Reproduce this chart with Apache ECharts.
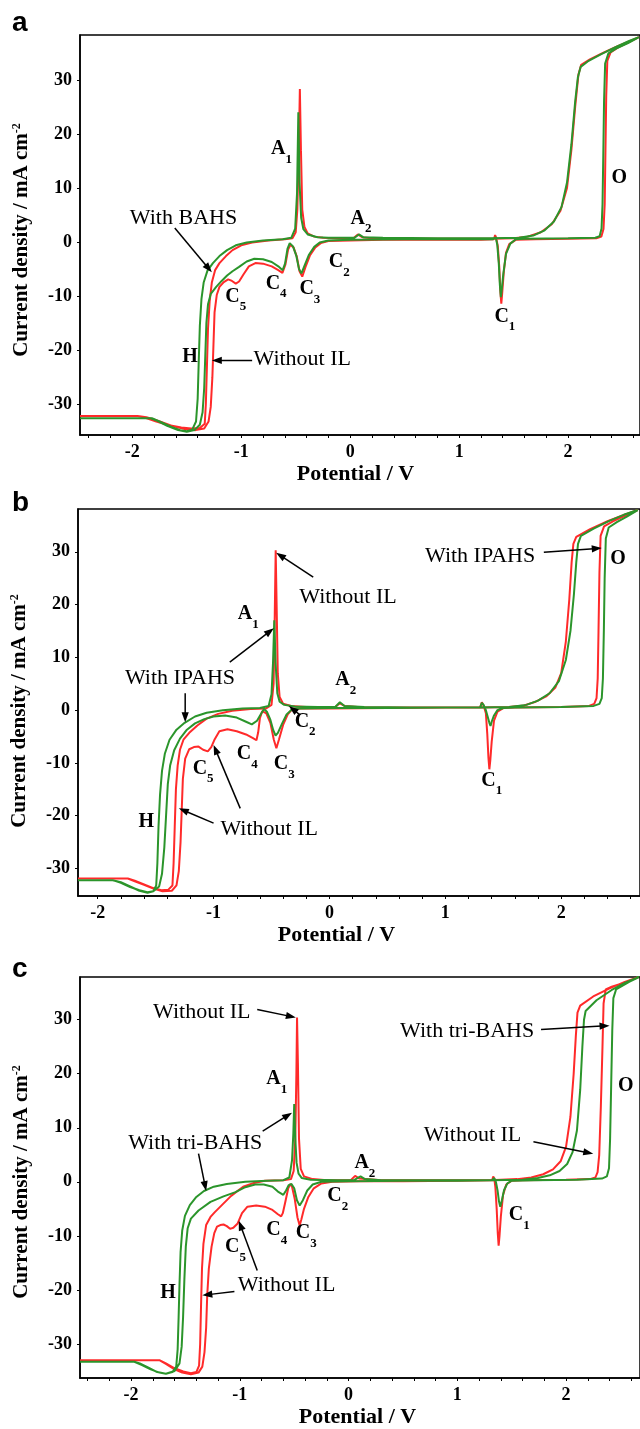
<!DOCTYPE html>
<html><head><meta charset="utf-8">
<script src="https://cdn.jsdelivr.net/npm/echarts@6/dist/echarts.min.js"></script>
<style>html,body{margin:0;padding:0;background:#fff}#c{width:640px;height:1429px}</style>
</head><body><div id="c"></div>
<script>
// ---------- tick labels ----------
const xLabelValues = [-2, -1, 0, 1, 2];
const xMinorValues = [-2.4,-2.2,-2.0,-1.8,-1.6,-1.4,-1.2,-1.0,-0.8,-0.6,-0.4,-0.2,0,0.2,0.4,0.6,0.8,1.0,1.2,1.4,1.6,1.8,2.0,2.2,2.4,2.6];
const yLabelValues = [-30, -20, -10, 0, 10, 20, 30];
const panelLetters = ['a', 'b', 'c'];
const xTitle = 'Potential / V';
const redName = 'Without IL';
const greenNames = ['With BAHS', 'With IPAHS', 'With tri-BAHS'];

// ---------- panel a : [potential V, current density mA cm-2] ----------
const aRed = [[-2.48,-32.2],[-1.95,-32.2],[-1.88,-32.5],[-1.78,-33.2],[-1.66,-33.9],[-1.55,-34.3],[-1.46,-34.5],[-1.38,-34.4],[-1.335,-33.6],
[-1.325,-30],[-1.315,-23],[-1.305,-16],[-1.29,-11],[-1.27,-7.5],[-1.24,-5.2],[-1.2,-3.9],[-1.14,-2.6],[-1.08,-1.5],[-1.0,-0.6],[-0.9,-0.1],[-0.75,0.3],[-0.6,0.5],[-0.53,0.7],[-0.5,1.8],[-0.485,6],[-0.472,17],[-0.462,28.3],[-0.452,17],[-0.44,6],[-0.42,2.8],[-0.39,1.6],[-0.33,1.0],[-0.25,0.8],[-0.1,0.7],[0.03,0.7],[0.07,1.4],[0.11,0.9],[0.2,0.7],[0.6,0.6],[1.0,0.6],[1.3,0.6],[1.5,0.7],[1.63,1.0],[1.75,1.8],[1.85,3.3],[1.93,5.8],[1.99,10],[2.03,17],[2.065,25],[2.095,31],[2.12,32.8],[2.2,33.8],[2.32,35.0],[2.45,36.2],[2.56,37.1],[2.65,37.9],
[2.55,36.9],[2.46,36.0],[2.39,35.1],[2.36,33.5],[2.35,27],[2.343,17],[2.336,7],[2.325,2.4],[2.305,1.0],[2.26,0.7],[2.0,0.6],[1.7,0.5],[1.52,0.4],[1.46,-0.4],[1.43,-2],[1.41,-5.5],[1.395,-9.5],[1.387,-11.4],[1.378,-9],[1.368,-4.5],[1.355,-0.8],[1.34,0.8],[1.33,1.3],[1.32,0.5],[1.2,0.4],[0.8,0.4],[0.3,0.4],[0.0,0.3],[-0.2,0.2],[-0.27,-0.2],[-0.32,-1.0],[-0.37,-2.5],[-0.41,-4.6],[-0.44,-6.4],[-0.465,-5.4],[-0.49,-2.7],[-0.52,-1.0],[-0.548,-0.5],[-0.57,-1.4],[-0.595,-4.2],[-0.622,-5.7],[-0.66,-5.2],[-0.72,-4.5],[-0.8,-4.0],[-0.87,-3.9],[-0.93,-4.5],[-0.98,-6.0],[-1.02,-7.3],[-1.05,-7.7],[-1.085,-7.2],[-1.12,-6.9],[-1.16,-7.4],[-1.2,-8.3],[-1.225,-9.8],[-1.245,-13],[-1.255,-19],[-1.265,-25],[-1.28,-30.5],[-1.3,-33.2],[-1.34,-34.5],[-1.42,-34.8],[-1.52,-34.6],[-1.64,-34.0],[-1.76,-33.1],[-1.87,-32.4],[-1.95,-32.2],[-2.48,-32.2]];
const aGreen = [[-2.48,-32.6],[-1.82,-32.6],[-1.74,-33.3],[-1.64,-34.2],[-1.56,-34.8],[-1.5,-35.0],[-1.45,-34.7],[-1.415,-33.2],
[-1.4,-29],[-1.39,-22],[-1.38,-15.5],[-1.365,-10.5],[-1.345,-7.5],[-1.31,-5.3],[-1.26,-3.9],[-1.2,-2.6],[-1.13,-1.5],[-1.05,-0.6],[-0.95,-0.1],[-0.8,0.3],[-0.62,0.5],[-0.54,0.8],[-0.505,2.5],[-0.488,9],[-0.476,24],[-0.465,11],[-0.45,4.5],[-0.43,2.4],[-0.39,1.4],[-0.3,0.9],[-0.2,0.8],[0.04,0.8],[0.08,1.4],[0.12,0.9],[0.3,0.8],[0.8,0.7],[1.3,0.7],[1.55,0.8],[1.68,1.2],[1.78,2.1],[1.87,3.8],[1.94,6.5],[1.99,11],[2.03,18],[2.065,26],[2.09,30.5],[2.115,32.4],[2.18,33.4],[2.3,34.7],[2.44,36.1],[2.56,37.2],[2.65,37.9],
[2.55,36.8],[2.45,35.9],[2.37,34.9],[2.34,33],[2.33,26],[2.323,16],[2.316,7],[2.307,2.5],[2.29,1.1],[2.25,0.8],[2.0,0.7],[1.6,0.6],[1.52,0.5],[1.47,-0.3],[1.43,-2.2],[1.405,-6],[1.39,-9],[1.383,-10.2],[1.374,-8],[1.364,-4],[1.35,-0.5],[1.335,0.9],[1.325,1.2],[1.31,0.5],[1.0,0.5],[0.5,0.5],[0.0,0.4],[-0.2,0.3],[-0.28,-0.1],[-0.33,-0.9],[-0.38,-2.4],[-0.42,-4.4],[-0.447,-5.8],[-0.47,-5.0],[-0.495,-2.5],[-0.525,-0.8],[-0.555,-0.2],[-0.575,-1.2],[-0.598,-4.0],[-0.62,-5.2],[-0.66,-4.5],[-0.72,-3.7],[-0.8,-3.2],[-0.88,-3.1],[-0.95,-3.6],[-1.02,-4.6],[-1.08,-5.4],[-1.13,-6.2],[-1.18,-7.2],[-1.23,-8.3],[-1.28,-9.6],[-1.305,-11.5],[-1.32,-15],[-1.33,-21],[-1.34,-27],[-1.355,-31.5],[-1.38,-33.8],[-1.43,-34.8],[-1.5,-35.1],[-1.58,-34.8],[-1.68,-34.0],[-1.77,-33.1],[-1.83,-32.6],[-2.48,-32.6]];

// ---------- panel b ----------
const bRed = [[-2.17,-31.9],[-1.74,-31.9],[-1.68,-32.3],[-1.6,-33.0],[-1.52,-33.7],[-1.45,-34.1],[-1.39,-34.0],[-1.355,-33.2],
[-1.345,-29],[-1.335,-22],[-1.325,-15],[-1.31,-10.5],[-1.29,-7.5],[-1.26,-5.6],[-1.21,-4.3],[-1.14,-2.9],[-1.06,-1.6],[-0.96,-0.7],[-0.84,-0.1],[-0.68,0.2],[-0.55,0.3],[-0.5,1.0],[-0.482,5],[-0.472,18],[-0.464,30.3],[-0.456,20],[-0.446,7],[-0.43,2.5],[-0.4,1.2],[-0.33,0.8],[-0.2,0.6],[0.05,0.6],[0.09,1.3],[0.13,0.8],[0.3,0.5],[0.6,0.5],[1.0,0.5],[1.3,0.5],[1.55,0.6],[1.68,0.9],[1.78,1.6],[1.87,2.6],[1.95,4.3],[2.0,7],[2.04,13],[2.07,21],[2.09,28],[2.105,31.5],[2.13,32.8],[2.25,34.3],[2.4,35.8],[2.53,36.9],[2.66,37.9],
[2.55,36.8],[2.45,35.8],[2.37,34.8],[2.34,33],[2.33,26],[2.322,15],[2.315,6],[2.305,2.3],[2.285,1.2],[2.24,0.8],[2.0,0.6],[1.6,0.5],[1.5,0.4],[1.45,-0.3],[1.42,-2],[1.40,-6],[1.388,-9.5],[1.38,-11.2],[1.372,-9],[1.362,-4.5],[1.35,-0.6],[1.33,0.9],[1.315,1.5],[1.3,0.5],[1.0,0.5],[0.5,0.4],[0.0,0.3],[-0.25,0.3],[-0.32,0.2],[-0.36,-0.8],[-0.4,-2.8],[-0.435,-5.5],[-0.458,-7.2],[-0.48,-5.6],[-0.51,-2.4],[-0.545,-0.6],[-0.58,-0.2],[-0.6,-1.5],[-0.615,-4.2],[-0.63,-5.7],[-0.66,-5.3],[-0.72,-4.6],[-0.8,-4.0],[-0.88,-3.6],[-0.95,-4.0],[-0.99,-5.5],[-1.02,-7.0],[-1.05,-7.8],[-1.09,-7.5],[-1.13,-6.9],[-1.17,-7.0],[-1.21,-7.4],[-1.245,-9.2],[-1.265,-13],[-1.275,-19],[-1.285,-25],[-1.3,-30.5],[-1.32,-33.2],[-1.36,-34.2],[-1.44,-34.3],[-1.52,-33.8],[-1.6,-33.1],[-1.68,-32.4],[-1.74,-31.9],[-2.17,-31.9]];
const bGreen = [[-2.17,-32.2],[-1.87,-32.2],[-1.8,-32.7],[-1.72,-33.5],[-1.64,-34.1],[-1.57,-34.5],[-1.52,-34.3],[-1.495,-33.2],
[-1.485,-29],[-1.475,-22],[-1.462,-16],[-1.445,-11.5],[-1.42,-8.2],[-1.38,-5.6],[-1.32,-3.7],[-1.25,-2.4],[-1.16,-1.2],[-1.06,-0.5],[-0.92,0],[-0.75,0.3],[-0.6,0.4],[-0.525,0.8],[-0.5,3],[-0.487,9],[-0.476,17],[-0.465,9],[-0.45,3.2],[-0.43,1.6],[-0.39,1.0],[-0.3,0.7],[-0.1,0.6],[0.05,0.6],[0.09,1.5],[0.13,0.8],[0.3,0.6],[0.7,0.5],[1.1,0.5],[1.3,0.5],[1.55,0.6],[1.7,1.0],[1.8,1.8],[1.9,3.2],[1.98,5.5],[2.04,9.5],[2.08,15],[2.11,22],[2.13,28],[2.145,31.5],[2.17,33],[2.28,34.4],[2.42,35.9],[2.54,37.0],[2.66,37.9],
[2.57,36.7],[2.48,35.6],[2.41,34.6],[2.385,32.5],[2.375,25],[2.368,15],[2.36,6],[2.35,2.3],[2.33,1.2],[2.28,0.8],[2.0,0.6],[1.6,0.5],[1.5,0.4],[1.45,0],[1.42,-1],[1.40,-2.2],[1.39,-3.0],[1.38,-2.4],[1.365,-1.2],[1.35,0],[1.33,1.0],[1.315,1.4],[1.3,0.5],[1.0,0.5],[0.5,0.4],[0.0,0.4],[-0.25,0.3],[-0.32,0.2],[-0.37,-0.8],[-0.41,-2.6],[-0.445,-4.3],[-0.465,-4.8],[-0.485,-3.8],[-0.51,-1.8],[-0.54,-0.3],[-0.565,0.2],[-0.59,-0.7],[-0.625,-2.0],[-0.67,-2.7],[-0.72,-2.2],[-0.8,-1.4],[-0.9,-1.0],[-1.0,-1.2],[-1.08,-1.7],[-1.16,-2.5],[-1.23,-3.7],[-1.29,-5.4],[-1.34,-7.6],[-1.375,-10.5],[-1.395,-14],[-1.41,-20],[-1.425,-26],[-1.445,-31],[-1.47,-33.4],[-1.52,-34.3],[-1.57,-34.6],[-1.64,-34.2],[-1.72,-33.4],[-1.8,-32.6],[-1.87,-32.2],[-2.17,-32.2]];

// ---------- panel c ----------
const cRed = [[-2.47,-33.0],[-1.74,-33.0],[-1.68,-33.6],[-1.6,-34.5],[-1.52,-35.1],[-1.45,-35.4],[-1.4,-35.2],[-1.375,-34],
[-1.365,-30],[-1.357,-23],[-1.348,-16],[-1.335,-11.5],[-1.31,-8],[-1.27,-6.5],[-1.23,-5.6],[-1.17,-4.4],[-1.08,-2.6],[-0.97,-0.9],[-0.87,-0.2],[-0.77,0.2],[-0.6,0.3],[-0.53,0.5],[-0.505,2],[-0.49,8],[-0.48,20],[-0.474,30.4],[-0.466,22],[-0.456,8],[-0.44,2.4],[-0.41,1.0],[-0.33,0.5],[-0.2,0.3],[0.02,0.3],[0.06,1.1],[0.1,0.6],[0.3,0.3],[0.7,0.3],[1.1,0.3],[1.3,0.3],[1.55,0.5],[1.68,0.8],[1.79,1.4],[1.88,2.3],[1.95,3.8],[2.0,6.5],[2.04,12],[2.07,20],[2.09,27],[2.105,31.3],[2.13,32.6],[2.25,34.3],[2.4,35.8],[2.54,37.0],[2.67,37.9],
[2.58,37.2],[2.5,36.6],[2.42,36.1],[2.365,35.6],[2.345,33],[2.335,25],[2.32,14],[2.305,5],[2.29,1.8],[2.27,0.8],[2.22,0.5],[2.0,0.4],[1.6,0.3],[1.5,0.2],[1.45,-0.5],[1.42,-2.5],[1.40,-6.5],[1.388,-10],[1.38,-11.8],[1.372,-9.5],[1.362,-5],[1.35,-1],[1.34,0.6],[1.33,1.0],[1.32,0.3],[1.0,0.2],[0.5,0.1],[0.1,0.1],[-0.15,0],[-0.25,-0.3],[-0.32,-1.2],[-0.37,-2.8],[-0.41,-5.0],[-0.435,-7.0],[-0.45,-8.1],[-0.47,-6.6],[-0.495,-3.2],[-0.52,-0.9],[-0.535,-0.4],[-0.555,-1.2],[-0.585,-4.0],[-0.605,-5.8],[-0.62,-6.4],[-0.65,-6.0],[-0.7,-5.2],[-0.77,-4.6],[-0.85,-4.4],[-0.93,-4.6],[-0.98,-5.8],[-1.02,-7.7],[-1.06,-8.5],[-1.09,-8.7],[-1.12,-8.2],[-1.15,-7.9],[-1.18,-8.0],[-1.21,-8.3],[-1.235,-9.5],[-1.26,-12],[-1.285,-16],[-1.3,-21],[-1.31,-27],[-1.325,-31.5],[-1.345,-34.2],[-1.38,-35.3],[-1.45,-35.6],[-1.53,-35.3],[-1.6,-34.7],[-1.68,-33.7],[-1.74,-33.0],[-2.47,-33.0]];
const cGreen = [[-2.47,-33.3],[-1.97,-33.3],[-1.9,-33.9],[-1.82,-34.7],[-1.74,-35.3],[-1.68,-35.5],[-1.62,-35.2],[-1.585,-34.2],
[-1.572,-31],[-1.563,-25],[-1.555,-19],[-1.545,-13],[-1.53,-9],[-1.505,-6.3],[-1.46,-4.3],[-1.4,-2.8],[-1.33,-1.7],[-1.24,-0.9],[-1.12,-0.4],[-0.95,0],[-0.75,0.2],[-0.6,0.3],[-0.545,0.8],[-0.52,4],[-0.508,9],[-0.5,14.4],[-0.49,8],[-0.478,3.5],[-0.46,1.5],[-0.43,0.7],[-0.35,0.4],[-0.1,0.3],[0.05,0.3],[0.11,1.0],[0.15,0.5],[0.3,0.3],[0.7,0.3],[1.1,0.3],[1.3,0.3],[1.6,0.4],[1.74,0.7],[1.85,1.2],[1.94,2.0],[2.01,3.3],[2.06,5.5],[2.1,9.5],[2.13,17],[2.15,25],[2.165,30],[2.18,31.6],[2.28,33.6],[2.42,35.5],[2.55,36.9],[2.67,37.9],
[2.58,37.0],[2.52,36.3],[2.46,35.6],[2.435,34],[2.425,28],[2.415,18],[2.405,8],[2.395,2.5],[2.375,1.0],[2.33,0.6],[2.1,0.4],[1.7,0.3],[1.5,0.2],[1.46,-0.3],[1.43,-1.5],[1.41,-3.4],[1.395,-4.6],[1.383,-3.6],[1.37,-1.6],[1.355,0],[1.34,0.7],[1.33,0.9],[1.32,0.3],[1.0,0.2],[0.5,0.2],[0.0,0.1],[-0.25,0],[-0.33,-0.5],[-0.38,-1.6],[-0.42,-3.4],[-0.45,-4.4],[-0.475,-3.4],[-0.5,-1.2],[-0.525,-0.4],[-0.55,-0.6],[-0.575,-1.6],[-0.6,-2.4],[-0.615,-2.6],[-0.65,-1.8],[-0.7,-0.9],[-0.78,-0.5],[-0.86,-0.5],[-0.95,-1.0],[-1.04,-1.9],[-1.15,-2.7],[-1.27,-3.7],[-1.38,-5.3],[-1.45,-6.8],[-1.48,-8.6],[-1.497,-12],[-1.51,-18],[-1.522,-25],[-1.535,-30.5],[-1.555,-33.6],[-1.6,-35.0],[-1.68,-35.5],[-1.76,-35.2],[-1.84,-34.4],[-1.92,-33.6],[-1.97,-33.3],[-2.47,-33.3]];

// ---------- annotations (data coordinates) ----------
const peakA = [['A','1',-0.63,16.6],['A','2',0.10,3.7],['C','2',-0.10,-4.4],['C','3',-0.37,-9.3],['C','4',-0.68,-8.3],['C','5',-1.05,-10.7],['C','1',1.42,-14.4],['H','',-1.47,-21.9],['O','',2.47,11.3]];
const noteA = [['With BAHS',-1.53,4.4],['Without IL',-0.44,-21.7]];
const arrowA = [[-1.61,2.6,-1.27,-5.6],[-0.90,-21.9,-1.27,-21.9]];

const peakB = [['A','1',-0.70,17.6],['A','2',0.14,5.1],['C','2',-0.21,-2.8],['C','3',-0.39,-10.8],['C','4',-0.71,-8.9],['C','5',-1.09,-11.7],['C','1',1.40,-14.0],['H','',-1.58,-21.8],['O','',2.49,28.0]];
const noteB = [['Without IL',0.16,21.4],['With IPAHS',-1.29,6.1],['Without IL',-0.52,-22.5],['With IPAHS',1.30,29.2]];
const arrowB = [[-0.14,25.2,-0.46,29.8],[-0.86,9.1,-0.48,15.5],[-1.245,3.2,-1.245,-2.3],[-0.26,-0.8,-0.35,0.8],[-1.0,-21.4,-1.30,-18.6],[-0.77,-18.6,-1.0,-6.6],[1.85,29.9,2.35,30.7]];

const peakC = [['A','1',-0.66,18.4],['A','2',0.15,2.9],['C','2',-0.10,-3.3],['C','4',-0.66,-9.6],['C','3',-0.39,-10.1],['C','5',-1.04,-12.7],['C','1',1.57,-6.8],['H','',-1.66,-21.2],['O','',2.55,17.1]];
const noteC = [['Without IL',-1.35,31.3],['With tri-BAHS',-1.41,7.2],['Without IL',-0.57,-19.2],['With tri-BAHS',1.09,27.8],['Without IL',1.14,8.7]];
const arrowC = [[-0.84,31.9,-0.485,30.4],[-0.79,9.4,-0.52,12.8],[-1.38,5.2,-1.31,-1.7],[-1.05,-20.3,-1.345,-21.0],[-0.84,-16.4,-1.01,-7.2],[1.77,28.2,2.40,28.9],[1.70,7.4,2.25,5.2]];

// ---------- build chart ----------
const SERIF = '"Liberation Serif", "Times New Roman", serif';
const RED = '#ff2a2a', GREEN = '#2b952b';
const layouts = [
  {grid:{left:80, top:35, width:563, height:400}, x:[-2.48,2.66], y:[-35.7,38.3], xPad:9, yPad:10, letterY:23},
  {grid:{left:78, top:509, width:565, height:387}, x:[-2.17,2.68], y:[-35.2,38.1], xPad:45, yPad:17, letterY:503},
  {grid:{left:80, top:977, width:563, height:403}, x:[-2.47,2.68], y:[-36.3,37.9], xPad:5, yPad:9, letterY:969}
];
const reds = [aRed, bRed, cRed], greens = [aGreen, bGreen, cGreen];
const peaks = [peakA, peakB, peakC], notes = [noteA, noteB, noteC], arrows = [arrowA, arrowB, arrowC];

const chart = echarts.init(document.getElementById('c'), null, {renderer:'canvas', width:640, height:1429});
const option = {animation:false, backgroundColor:'#fff', grid:[], xAxis:[], yAxis:[], series:[]};
layouts.forEach((L, i) => {
  option.grid.push(Object.assign({show:true, borderColor:'#000', borderWidth:1.5, backgroundColor:'transparent'}, L.grid));
  option.xAxis.push({
    gridIndex:i, type:'value', min:L.x[0], max:L.x[1],
    axisLine:{show:true, onZero:false, lineStyle:{color:'#000', width:1.5}},
    axisTick:{show:true, inside:false, length:3, customValues:xMinorValues.filter(v => v >= L.x[0] && v <= L.x[1]), lineStyle:{color:'#000', width:1}},
    axisLabel:{customValues:xLabelValues, fontFamily:SERIF, fontWeight:'bold', fontSize:18, color:'#000', margin:8},
    splitLine:{show:false},
    name:xTitle, nameLocation:'middle', nameGap:28,
    nameTextStyle:{fontFamily:SERIF, fontWeight:'bold', fontSize:22, color:'#000', padding:[0, L.xPad, 0, 0]}
  });
  option.yAxis.push({
    gridIndex:i, type:'value', min:L.y[0], max:L.y[1],
    axisLine:{show:true, onZero:false, lineStyle:{color:'#000', width:1.5}},
    axisTick:{show:true, inside:false, length:3, customValues:yLabelValues, lineStyle:{color:'#000', width:1}},
    axisLabel:{customValues:yLabelValues, fontFamily:SERIF, fontWeight:'bold', fontSize:18, color:'#000', margin:8},
    splitLine:{show:false},
    name:'{m|Current density / mA cm}{s|-2}', nameLocation:'middle', nameGap:48,
    nameTextStyle:{padding:[0, L.yPad, 0, 0], rich:{
      m:{fontFamily:SERIF, fontWeight:'bold', fontSize:21, color:'#000'},
      s:{fontFamily:SERIF, fontWeight:'bold', fontSize:12, color:'#000', verticalAlign:'top'}}}
  });
  option.series.push({type:'line', name:redName, xAxisIndex:i, yAxisIndex:i, data:reds[i], showSymbol:false, symbol:'none',
    lineStyle:{color:RED, width:2}, itemStyle:{color:RED}, z:2, silent:true});
  option.series.push({type:'line', name:greenNames[i], xAxisIndex:i, yAxisIndex:i, data:greens[i], showSymbol:false, symbol:'none',
    lineStyle:{color:GREEN, width:2}, itemStyle:{color:GREEN}, z:3, silent:true});
});
chart.setOption(option);

// ---------- annotation graphics ----------
const g = [];
function toPx(i, x, y){ return chart.convertToPixel({gridIndex:i}, [x, y]); }
function addArrow(p1, p2){
  const dx = p2[0]-p1[0], dy = p2[1]-p1[1], len = Math.hypot(dx, dy);
  const ux = dx/len, uy = dy/len, hl = 10, hw = 3.6;
  const bx = p2[0]-ux*hl, by = p2[1]-uy*hl;
  g.push({type:'line', silent:true, z:100, shape:{x1:p1[0], y1:p1[1], x2:bx+ux*2, y2:by+uy*2}, style:{stroke:'#000', lineWidth:1.5}});
  g.push({type:'polygon', silent:true, z:100, shape:{points:[[p2[0],p2[1]],[bx-uy*hw, by+ux*hw],[bx+uy*hw, by-ux*hw]]}, style:{fill:'#000'}});
}
layouts.forEach((L, i) => {
  g.push({type:'text', x:12, y:L.letterY, z:100, silent:true,
    style:{text:panelLetters[i], fill:'#000', font:'bold 28px "Liberation Sans", Arial, sans-serif', align:'left', verticalAlign:'middle'}});
  peaks[i].forEach(p => {
    const q = toPx(i, p[2], p[3]);
    const txt = p[1] ? '{m|' + p[0] + '}{s|' + p[1] + '}' : '{m|' + p[0] + '}';
    g.push({type:'text', x:q[0], y:q[1], z:100, silent:true, style:{text:txt, fill:'#000', align:'center', verticalAlign:'middle',
      rich:{m:{fontFamily:SERIF, fontWeight:'bold', fontSize:20, lineHeight:27, verticalAlign:'top', fill:'#000'},
            s:{fontFamily:SERIF, fontWeight:'bold', fontSize:13, lineHeight:13, verticalAlign:'bottom', fill:'#000'}}}});
  });
  notes[i].forEach(n => {
    const q = toPx(i, n[1], n[2]);
    g.push({type:'text', x:q[0], y:q[1], z:100, silent:true,
      style:{text:n[0], fill:'#000', fontFamily:SERIF, fontSize:22, align:'center', verticalAlign:'middle'}});
  });
  arrows[i].forEach(a => addArrow(toPx(i, a[0], a[1]), toPx(i, a[2], a[3])));
});
chart.setOption({graphic:g});
</script>
</body></html>
